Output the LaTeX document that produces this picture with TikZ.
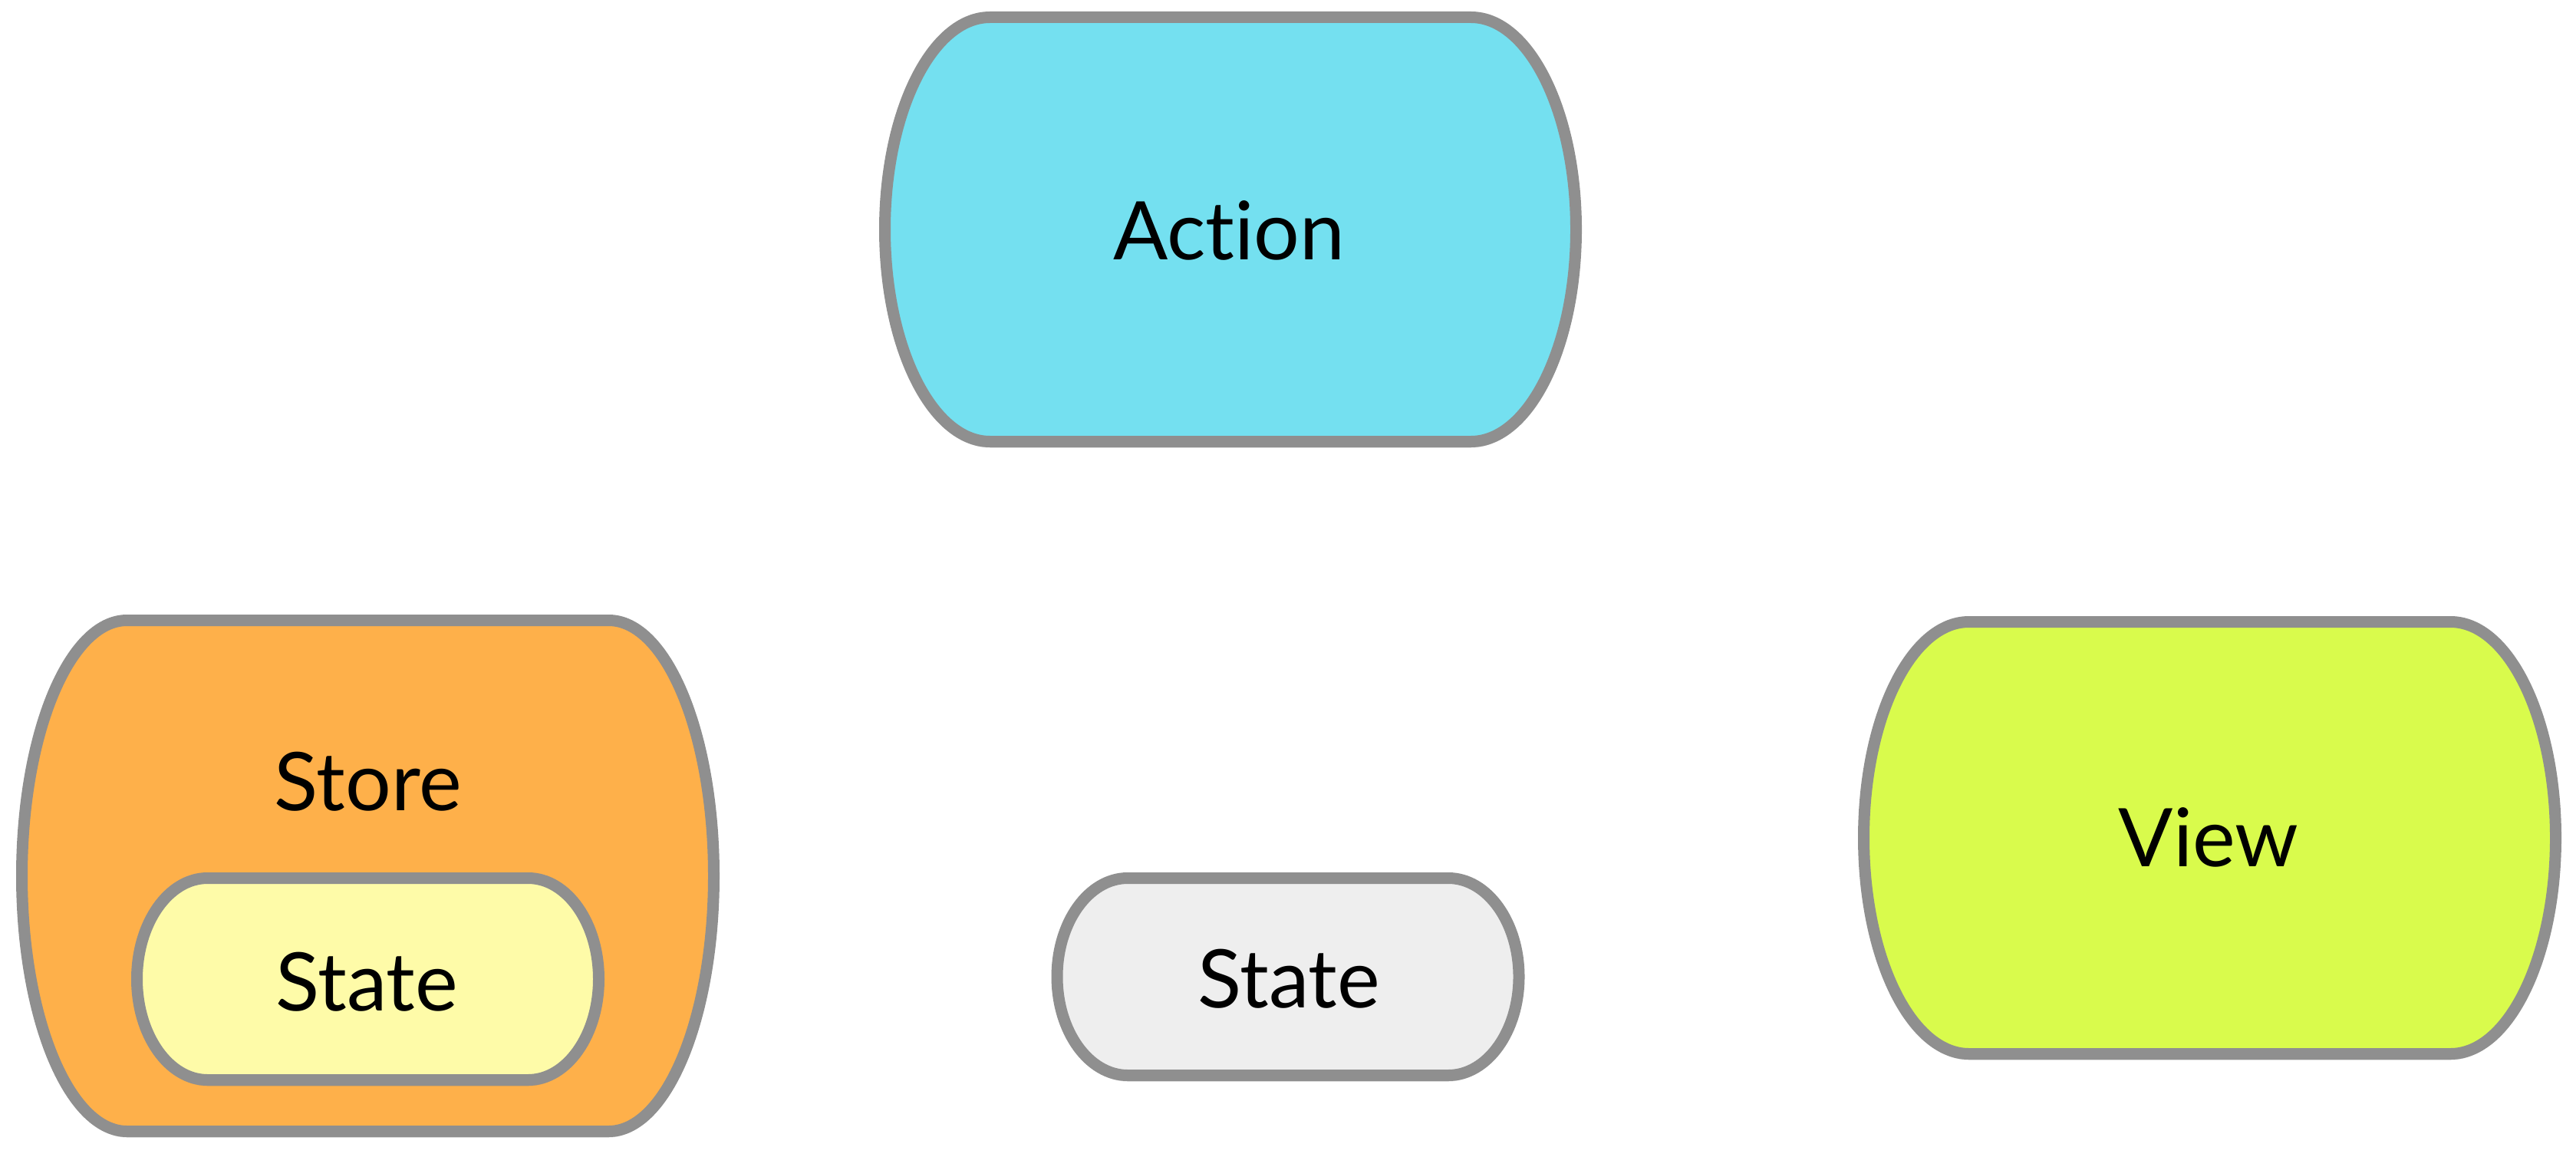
\documentclass[tikz,border=0pt]{standalone}
\usepackage{fontspec}
\setmainfont{Lato}[Ligatures={NoCommon,NoRare,NoContextual}]
\usetikzlibrary{shadows}
\definecolor{fxline}{HTML}{8F8F8F}
\definecolor{fxaction}{HTML}{74E0F0}
\definecolor{fxstore}{HTML}{FEB04A}
\definecolor{fxview}{HTML}{D9FB4C}
\definecolor{fxstate}{HTML}{FEFBA8}
\definecolor{fxidle}{HTML}{EEEEEE}
% barrel outline: centre x, centre y, half width, half height, bulge, fill
\newcommand{\barrel}[6]{%
 \draw[barrel,fill=#6] ({#1-#3+#5},{#2+#4}) -- ({#1+#3-#5},{#2+#4})
  arc[start angle=90,end angle=-90,x radius=#5,y radius=#4]
  -- ({#1-#3+#5},{#2-#4})
  arc[start angle=270,end angle=90,x radius=#5,y radius=#4] -- cycle;}

\begin{document}
\begin{tikzpicture}[
 barrel/.style={draw=fxline,line width=0.15cm,line join=round,
  drop shadow={shadow xshift=0pt,shadow yshift=-0.08cm,opacity=0.3}},
 every node/.style={anchor=base,font=\fontsize{30}{36}\selectfont}]
\useasboundingbox (0,0) rectangle (33.58,15.2);
\barrel{16.04}{12.21}{4.505}{2.765}{1.37}{fxaction}
\barrel{4.795}{3.785}{4.51}{3.33}{1.37}{fxstore}
\barrel{4.795}{2.44}{3.01}{1.315}{0.92}{fxstate}
\barrel{16.79}{2.47}{3.01}{1.285}{0.92}{fxidle}
\barrel{28.805}{4.28}{4.51}{2.815}{1.37}{fxview}
\node (action) at (16.02,11.82) {Action};
\node (store) at (4.80,4.64) {Store};
\node (state) at (4.78,2.03) {State};
\node (copy) at (16.80,2.07) {State};
\node (view) at (28.79,3.91) {View};
\end{tikzpicture}
\end{document}
